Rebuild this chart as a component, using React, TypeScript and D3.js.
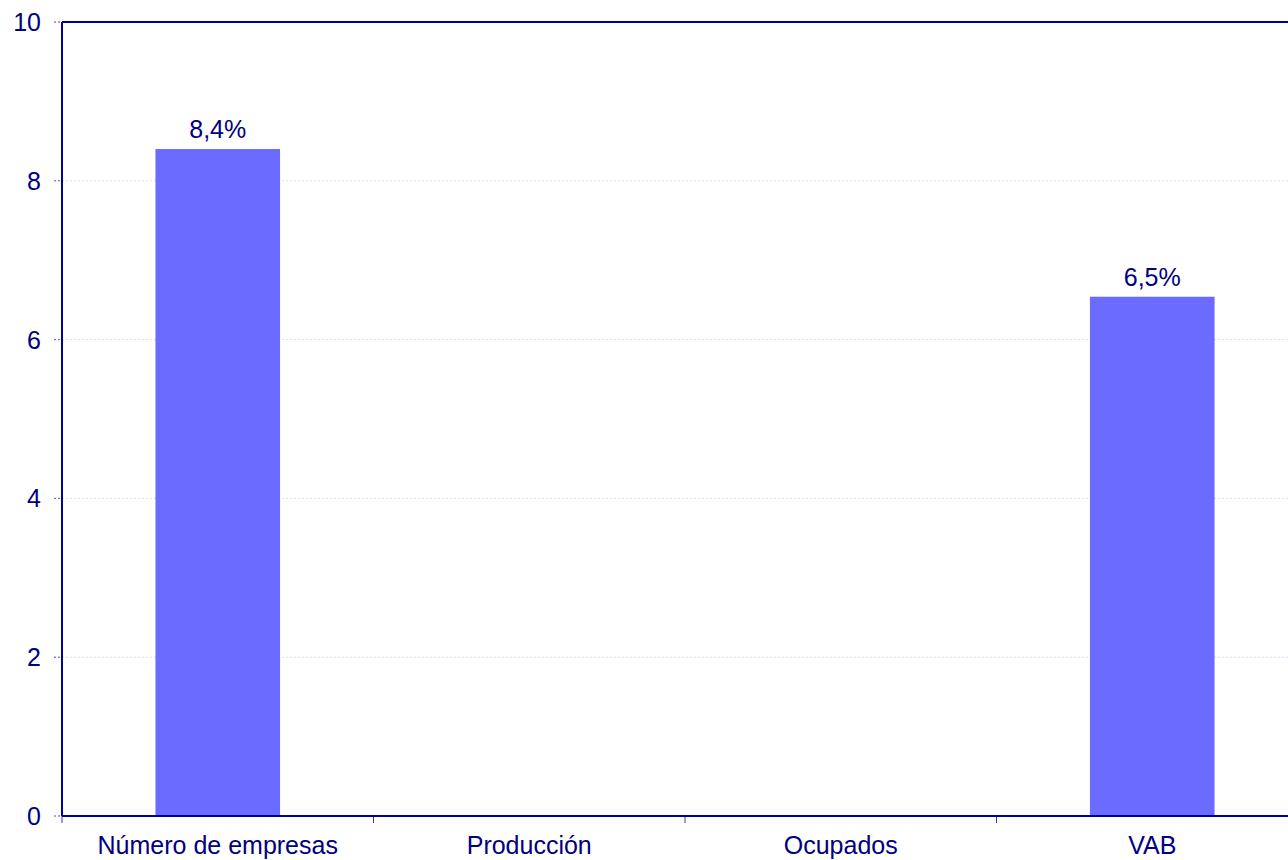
import React from "react";
import * as d3 from "d3";

const categories = ["Número de empresas", "Producción", "Ocupados", "VAB"];
const values: (number | null)[] = [8.4, null, null, 6.54];
const yTicks = [0, 2, 4, 6, 8, 10];

const W = 1288, H = 860;
const left = 62, top = 22, bottom = 816, right = 1308;
const navy = "#000080";

export default function App() {
  const x = d3.scaleBand<string>().domain(categories).range([left, right]).paddingInner(0).paddingOuter(0);
  const y = d3.scaleLinear().domain([0, 10]).range([bottom, top]);
  const barW = x.bandwidth() * 0.4;
  const font = "Arial, 'Liberation Sans', sans-serif";
  return (
    <svg width={W} height={H} style={{ position: "fixed", left: 0, top: 0, background: "#fff" }} fontFamily={font}>
      {yTicks.map((t) => (
        <g key={t}>
          <line x1={left - 8} x2={right} y1={y(t)} y2={y(t)} stroke="#d8e0f2" strokeWidth={1} strokeDasharray="2,2" />
          <line x1={left - 8} x2={left} y1={y(t)} y2={y(t)} stroke="#5a5ad0" strokeWidth={1} strokeDasharray="2,2" />
          <text x={41} y={y(t)} textAnchor="end" dominantBaseline="central" fontSize={25} fill={navy}>{t}</text>
        </g>
      ))}
      {categories.map((c, i) => {
        const v = values[i];
        const cx = x(c)! + x.bandwidth() / 2;
        return (
          <g key={c}>
            {v != null && (
              <>
                <rect x={cx - barW / 2} y={y(v)} width={barW} height={bottom - y(v)} fill="#6b6bff" />
                <text x={cx} y={y(v) - 11} textAnchor="middle" fontSize={25} fill={navy}>
                  {d3.format(".1f")(v).replace(".", ",") + "%"}
                </text>
              </>
            )}
            <text x={cx} y={854} textAnchor="middle" fontSize={25} fill={navy}>{c}</text>
            <line x1={x(c)!} x2={x(c)!} y1={bottom} y2={bottom + 7} stroke="#3a3ab0" strokeWidth={1} />
          </g>
        );
      })}
      <line x1={left} x2={right} y1={top} y2={top} stroke="#00009a" strokeWidth={2} />
      <line x1={left} x2={left} y1={top} y2={bottom} stroke="#00009a" strokeWidth={2} />
      <line x1={left} x2={right} y1={bottom} y2={bottom} stroke="#00009a" strokeWidth={2} />
    </svg>
  );
}
